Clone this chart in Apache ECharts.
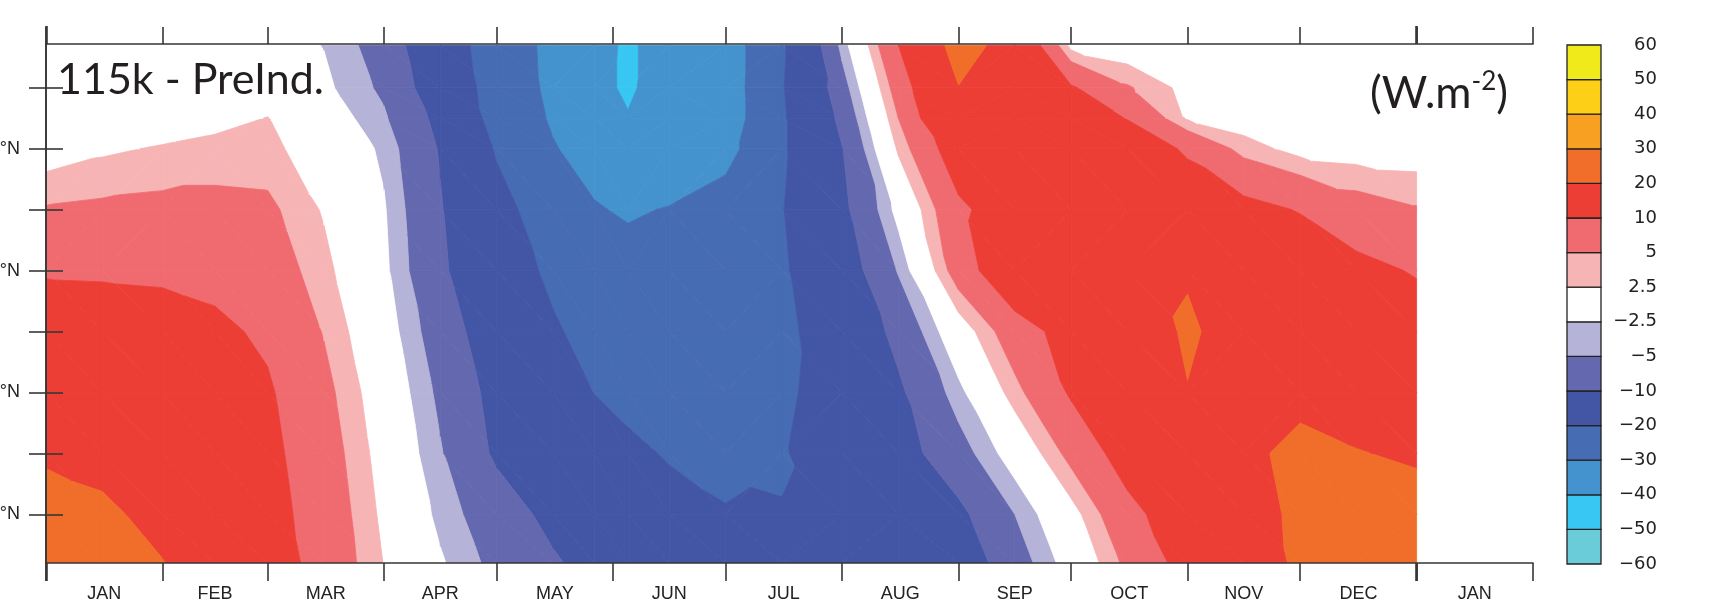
<!DOCTYPE html>
<html>
<head>
<meta charset="utf-8">
<script src="https://cdn.jsdelivr.net/npm/echarts@6/dist/echarts.min.js"></script>
<style>
  html, body { margin: 0; padding: 0; background: #ffffff; }
  #chart { width: 1729px; height: 607px; }
</style>
</head>
<body>
<div id="chart"></div>
<script>
// Sample days of the year (Jan 1 = 0) for every latitude row
const days = [0, 15, 31, 45, 59, 74, 90, 105, 120, 135, 146, 155, 166, 181, 196, 212, 227, 243, 258, 273, 288, 304, 319, 334, 349, 365];
// Latitudes (degrees N) of the rows, bottom to top
const lats = [2, 10, 20, 30, 40, 50, 60, 70, 75, 80, 87];

// Insolation difference 115k - PreInd. (W.m-2), one row per latitude
const lat02 = [23.5, 21.8, 20.2, 16.5, 12.7, 8.1, 2.4, -2.1, -6.1, -9.4, -11.7, -13.2, -15.0, -16.8, -17.5, -16.8, -16.5, -13.5, -7.0, -0.9, 5.9, 12.0, 16.5, 21.0, 22.5, 23.5];
const lat10 = [23.0, 21.2, 18.1, 15.0, 11.9, 7.7, 1.8, -3.3, -7.5, -11.4, -13.8, -15.5, -17.5, -19.6, -19.8, -18.2, -15.5, -11.2, -5.0, 1.2, 8.4, 13.5, 17.5, 21.2, 22.5, 23.0];
const lat20 = [19.0, 18.0, 16.5, 13.9, 11.3, 7.0, 1.1, -4.7, -10.8, -14.1, -16.5, -18.5, -20.6, -21.8, -20.5, -16.5, -12.3, -6.7, -0.7, 6.2, 12.5, 15.3, 18.3, 22.0, 20.3, 19.0];
const lat30 = [16.0, 15.2, 14.0, 12.6, 10.6, 6.1, 0.3, -5.8, -11.7, -16.5, -20.1, -22.0, -23.5, -24.5, -21.5, -16.0, -10.9, -3.4, 3.9, 10.6, 14.0, 19.8, 18.0, 18.0, 16.5, 16.0];
const lat40 = [12.6, 12.2, 11.8, 11.0, 9.2, 4.8, -0.8, -7.2, -13.4, -19.1, -22.5, -24.5, -26.0, -27.0, -22.0, -15.0, -8.5, 0.4, 7.5, 12.2, 16.1, 20.8, 17.5, 15.5, 14.0, 12.6];
const lat50 = [9.6, 9.5, 9.3, 8.6, 7.2, 3.4, -1.8, -9.0, -15.6, -21.5, -24.5, -26.5, -28.0, -29.0, -21.0, -13.2, -4.7, 7.1, 15.0, 17.5, 17.5, 19.5, 17.0, 14.0, 11.5, 9.6];
const lat60 = [5.3, 5.7, 6.0, 6.0, 5.8, 2.2, -2.2, -9.6, -17.4, -24.2, -29.3, -31.0, -29.5, -26.0, -20.3, -11.3, -1.4, 8.9, 13.5, 15.5, 15.5, 14.0, 11.8, 9.7, 6.8, 5.3];
const lat70 = [0.8, 2.0, 2.8, 3.5, 3.3, 0.7, -3.1, -10.4, -20.7, -29.4, -33.5, -36.5, -37.5, -33.0, -21.0, -10.2, 3.0, 13.5, 15.0, 16.0, 14.0, 9.2, 3.8, 1.4, 1.0, 0.8];
const lat75 = [0.2, 0.2, 0.6, 1.4, 2.6, -0.4, -4.5, -11.5, -22.9, -31.0, -35.5, -39.6, -37.5, -35.0, -21.0, -8.5, 5.0, 18.5, 16.0, 13.5, 9.8, 2.2, 0.8, 0.3, 0.2, 0.2];
const lat80 = [0.0, 0.0, 0.0, 0.2, 0.6, -1.8, -5.7, -13.6, -23.5, -32.0, -38.0, -41.0, -36.5, -35.0, -20.5, -6.7, 7.0, 19.8, 16.0, 10.6, 5.4, 1.5, 0.3, 0.0, 0.0, 0.0];
const lat87 = [0.0, 0.0, 0.0, 0.0, -1.0, -2.6, -6.8, -15.2, -24.3, -32.3, -37.7, -41.0, -37.0, -35.0, -21.0, -4.0, 10.0, 23.0, 17.0, 1.5, 0.2, 0.0, 0.0, 0.0, 0.0, 0.0];

// Contour levels and the fill colour of each band between them
const levels = [-60, -50, -40, -30, -20, -10, -5, -2.5, 2.5, 5, 10, 20, 30, 40, 50, 60];
const bandColors = ['#6bccd9', '#37c7f2', '#4593ce', '#466cb3', '#4356a6', '#6468ae', '#b6b3d8', '#ffffff',
                    '#f7b4b5', '#f06b6f', '#ec3e35', '#f06d2a', '#f7a021', '#fdd017', '#f1ea1b'];

// Month boundaries (day of year) and names for the time axis
const monthEdges = [0, 31, 59, 90, 120, 151, 181, 212, 243, 273, 304, 334, 365, 396];
const monthNames = ['JAN', 'FEB', 'MAR', 'APR', 'MAY', 'JUN', 'JUL', 'AUG', 'SEP', 'OCT', 'NOV', 'DEC', 'JAN'];
// Year boundaries, drawn with heavier ticks
const yearEdges = [0, 365];
// Latitude ticks and labelled latitudes
const latTicks = [10, 20, 30, 40, 50, 60, 70, 80];
const latLabels = [10, 30, 50, 70];

const field = [lat02, lat10, lat20, lat30, lat40, lat50, lat60, lat70, lat75, lat80, lat87];
const monthMids = monthEdges.slice(0, -1).map((d, i) => (d + monthEdges[i + 1]) / 2);

// Sutherland-Hodgman clip of a polygon [day, lat, value] against value >= t (above) or value <= t
function clipPoly(poly, t, above) {
  const out = [];
  for (let a = 0; a < poly.length; a++) {
    const P = poly[a], Q = poly[(a + 1) % poly.length];
    const pin = above ? P[2] >= t : P[2] <= t;
    const qin = above ? Q[2] >= t : Q[2] <= t;
    if (pin) out.push(P);
    if (pin !== qin) {
      const f = (t - P[2]) / (Q[2] - P[2]);
      out.push([P[0] + f * (Q[0] - P[0]), P[1] + f * (Q[1] - P[1]), t]);
    }
  }
  return out;
}

function trianglesOfCell(i, j) {
  const A = [days[i], lats[j], field[j][i]];
  const B = [days[i + 1], lats[j], field[j][i + 1]];
  const C = [days[i + 1], lats[j + 1], field[j + 1][i + 1]];
  const D = [days[i], lats[j + 1], field[j + 1][i]];
  if (Math.abs(A[2] - C[2]) <= Math.abs(B[2] - D[2])) return [[A, B, C], [A, C, D]];
  return [[A, B, D], [B, C, D]];
}

const cells = [];
for (let j = 0; j < lats.length - 1; j++) {
  for (let i = 0; i < days.length - 1; i++) {
    cells.push([days[i], lats[j], i, j]);
  }
}

function renderCell(params, api) {
  const i = api.value(2), j = api.value(3);
  const children = [];
  trianglesOfCell(i, j).forEach(tri => {
    for (let k = 0; k < bandColors.length; k++) {
      let p = clipPoly(tri, levels[k], true);
      if (p.length < 3) continue;
      p = clipPoly(p, levels[k + 1], false);
      if (p.length < 3) continue;
      children.push({
        type: 'polygon',
        shape: { points: p.map(q => api.coord([q[0], q[1]])) },
        style: { fill: bandColors[k], stroke: bandColors[k], lineWidth: 0.8 },
        silent: true
      });
    }
  });
  return { type: 'group', children };
}

function renderBox(params, api) {
  const k = api.value(1);
  const p0 = api.coord([0, k]);
  const p1 = api.coord([1, k + 1]);
  return {
    type: 'rect',
    shape: { x: p0[0], y: p1[1], width: p1[0] - p0[0], height: p0[1] - p1[1] },
    style: { fill: bandColors[k], stroke: '#222', lineWidth: 1.3 },
    silent: true
  };
}

const fmtLevel = v => (v < 0 ? '\u2212' + Math.abs(v) : String(v));
const axisColor = '#363636';

function yearTickAxis(position) {
  return {
    gridIndex: 0, type: 'value', min: 0, max: 396, position, z: 11,
    axisLine: { show: false },
    axisTick: { show: true, customValues: yearEdges, length: 18, lineStyle: { color: axisColor, width: 2.6 } },
    axisLabel: { show: false },
    splitLine: { show: false }
  };
}

const chart = echarts.init(document.getElementById('chart'), null, { renderer: 'canvas' });
chart.setOption({
  animation: false,
  backgroundColor: '#ffffff',
  title: [
    {
      text: '115k - PreInd.', left: 57, top: 59, padding: 0,
      textStyle: { fontFamily: 'Lato', fontSize: 43, fontWeight: 'normal', color: '#231f20' }
    },
    {
      text: '{a|(W.m}{s|-2}{a|)}', right: 221, top: 69, padding: 0,
      textStyle: {
        fontWeight: 'normal',
        rich: {
          a: { fontFamily: 'Lato', fontSize: 44, lineHeight: 50, fontWeight: 'normal', color: '#231f20' },
          s: { fontFamily: 'Lato', fontSize: 26, lineHeight: 27, fontWeight: 'normal', verticalAlign: 'top', color: '#231f20' }
        }
      }
    }
  ],
  grid: [
    { left: 46, top: 44, width: 1487, height: 519, outerBoundsMode: 'none', containLabel: false },
    { left: 1567, top: 45, width: 34, height: 519, outerBoundsMode: 'none', containLabel: false }
  ],
  xAxis: [
    {
      gridIndex: 0, type: 'value', min: 0, max: 396, position: 'bottom', z: 10,
      axisLine: { lineStyle: { color: axisColor, width: 1.6 } },
      axisTick: { customValues: monthEdges, length: 18, lineStyle: { color: axisColor, width: 1.6 } },
      axisLabel: {
        customValues: monthMids, margin: 22, fontSize: 18, lineHeight: 18,
        fontFamily: 'Liberation Sans', color: '#222',
        formatter: v => {
          let best = 0;
          monthMids.forEach((m, i) => { if (Math.abs(m - v) < Math.abs(monthMids[best] - v)) best = i; });
          return monthNames[best];
        }
      },
      splitLine: { show: false }
    },
    {
      gridIndex: 0, type: 'value', min: 0, max: 396, position: 'top', z: 10,
      axisLine: { lineStyle: { color: axisColor, width: 1.6 } },
      axisTick: { customValues: monthEdges, length: 17, lineStyle: { color: axisColor, width: 1.6 } },
      axisLabel: { show: false },
      splitLine: { show: false }
    },
    { gridIndex: 1, type: 'value', min: 0, max: 1, show: false },
    yearTickAxis('bottom'),
    yearTickAxis('top')
  ],
  yAxis: [
    {
      gridIndex: 0, type: 'value', min: 2, max: 87.2, position: 'left', z: 10,
      axisLine: { show: true, lineStyle: { color: axisColor, width: 1.6 } },
      axisTick: { show: true, customValues: latTicks, length: 17, lineStyle: { color: axisColor, width: 1.6 } },
      axisLabel: {
        customValues: latLabels, margin: 26, fontSize: 18, fontFamily: 'Liberation Sans', color: '#222',
        formatter: v => v + '°N'
      },
      splitLine: { show: false }
    },
    {
      gridIndex: 0, type: 'value', min: 2, max: 87.2, position: 'right', z: 10,
      axisLine: { show: true, lineStyle: { color: axisColor, width: 1.6 } },
      axisTick: { show: true, customValues: latTicks, length: 17, lineStyle: { color: axisColor, width: 1.6 } },
      axisLabel: { show: false },
      splitLine: { show: false }
    },
    {
      gridIndex: 1, type: 'value', min: 0, max: 15, interval: 1, position: 'right',
      axisLine: { show: false }, axisTick: { show: false }, splitLine: { show: false },
      axisLabel: {
        margin: 56, align: 'right', fontSize: 18, fontFamily: 'DejaVu Sans', color: '#222',
        formatter: v => fmtLevel(levels[v])
      }
    }
  ],
  series: [
    {
      type: 'custom', xAxisIndex: 0, yAxisIndex: 0, clip: true,
      encode: { x: 0, y: 1 },
      data: cells,
      renderItem: renderCell
    },
    {
      type: 'custom', xAxisIndex: 2, yAxisIndex: 2,
      encode: { x: 0, y: 1 },
      data: bandColors.map((c, k) => [0, k]),
      renderItem: renderBox
    }
  ]
});
</script>
</body>
</html>
